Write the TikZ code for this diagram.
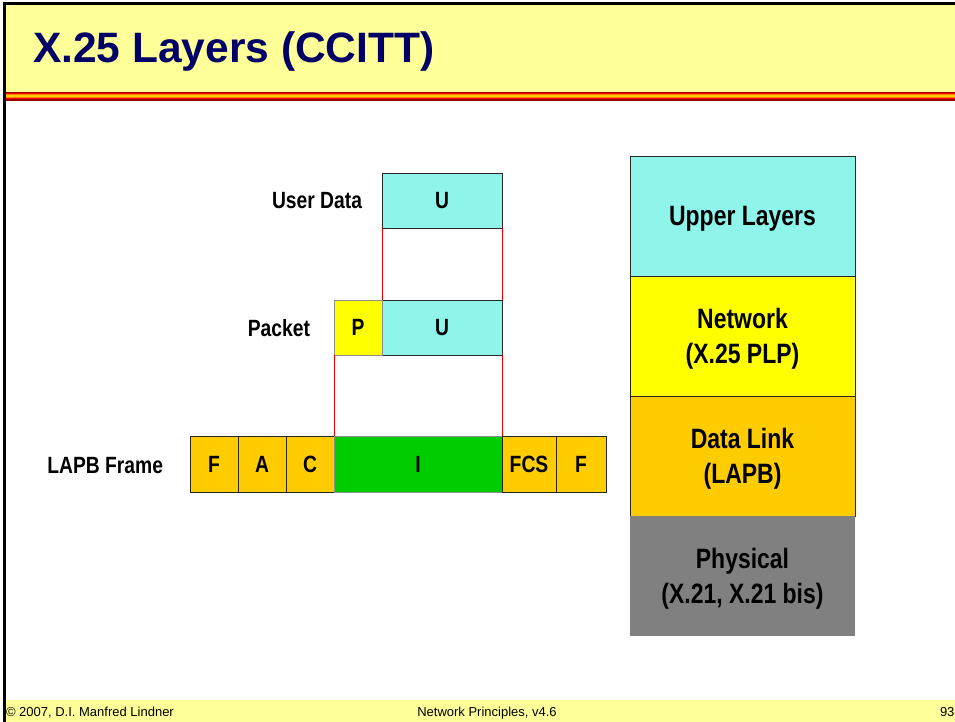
\documentclass[tikz,border=0pt]{standalone}
\usepackage{fontspec}
\setmainfont{Liberation Sans}
\newfontfamily\narrowfont[FakeStretch=0.82]{Liberation Sans}
\usetikzlibrary{positioning}
\definecolor{slideyellow}{HTML}{FFFF99}
\definecolor{titleblue}{HTML}{000066}
\definecolor{userblue}{HTML}{8FF5EB}
\definecolor{pktyellow}{HTML}{FFFF00}
\definecolor{lapborange}{HTML}{FFCC00}
\definecolor{infogreen}{HTML}{00CC00}
\definecolor{physgray}{HTML}{808080}

\begin{document}
\begin{tikzpicture}[x=1pt, y=-1pt, node distance=0pt and 0pt, every node/.style={inner sep=0pt, outer sep=0pt, font=\narrowfont\bfseries\fontsize{23.5}{28}\selectfont}, cell/.style={draw=black!85, line width=0.8pt, minimum height=55pt}, frame/.style={cell, fill=lapborange, minimum height=56pt, minimum width=48pt}, layer/.style={draw=black!85, line width=0.8pt, minimum width=225pt, minimum height=120pt, text depth=-1pt, align=center, font=\narrowfont\bfseries\fontsize{28}{35}\selectfont}, guide/.style={red, line width=0.6pt}, foot/.style={font=\fontsize{13}{15}\selectfont}]
\useasboundingbox (0,0) rectangle (955,722);
\fill[white] (0,0) rectangle (955,722);
% slide frame
\fill[slideyellow] (6,5) rectangle (955,92);
\fill[slideyellow] (6,700) rectangle (955,722);
\foreach \y/\c in {92/red!60!black, 93/red, 94.5/orange, 95.5/lapborange, 97/orange, 98/red, 99/red!60!black}
  \fill[\c] (6,\y) rectangle (955,\y+1.6);
\draw[line width=3pt] (4.5,722) -- (4.5,3.5) -- (960,3.5);
\node[anchor=base west, text=titleblue, font=\bfseries\fontsize{42.5}{50}\selectfont] (title) at (33,63) {X.25 Layers (CCITT)};
\node[foot, anchor=base west] (copy) at (6,716) {© 2007, D.I. Manfred Lindner};
\node[foot, anchor=base] (course) at (487,716) {Network Principles, v4.6};
\node[foot, anchor=base west] (page) at (940,716) {93};
% encapsulation
\node[cell, fill=userblue, minimum width=120pt] (ud) at (442,200.5) {U};
\node[anchor=east] (udlabel) at (362,201) {User Data};
\node[cell, fill=userblue, minimum width=120pt] (pu) at (442,327.5) {U};
\node[cell, fill=pktyellow, draw=black!45, minimum width=48pt, left=of pu] (pp) {P};
\node[anchor=east] (pktlabel) at (310,328) {Packet};
\node[frame] (f1) at (214,464) {F};
\node[frame, right=of f1] (fa) {A};
\node[frame, right=of fa] (fc) {C};
\node[frame, fill=infogreen, draw=black!45, minimum width=168pt, right=of fc] (fi) {I};
\node[frame, minimum width=54pt, right=of fi] (fcs) {FCS};
\node[frame, minimum width=50pt, right=of fcs] (f2) {F};
\node[anchor=east] (framelabel) at (163,466) {LAPB Frame};
\draw[guide] (ud.south west) -- (pu.north west);
\draw[guide] (ud.south east) -- (pu.north east);
\draw[guide] (pp.south west) -- (fi.north west);
\draw[guide] (pu.south east) -- (fi.north east);
% layer stack
\node[layer, fill=userblue] (upper) at (742.5,216) {Upper Layers};
\node[layer, fill=pktyellow, below=of upper] (net) {Network\\(X.25 PLP)};
\node[layer, fill=lapborange, below=of net] (dl) {Data Link\\(LAPB)};
\node[layer, fill=physgray, draw=none, below=of dl] (phy) {Physical\\(X.21, X.21 bis)};
\end{tikzpicture}
\end{document}
